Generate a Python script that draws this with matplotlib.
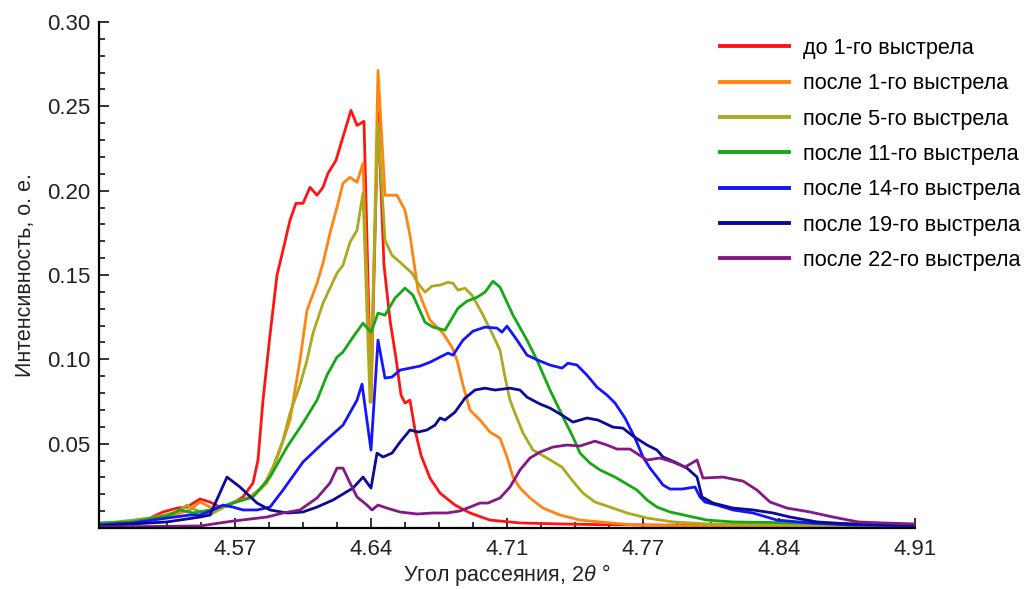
import numpy as np
import matplotlib
matplotlib.use('Agg')
import matplotlib.pyplot as plt
from matplotlib.ticker import FixedLocator, MultipleLocator

# --- data (2theta in degrees, intensity in a.u.) ---
x_before = [4.502, 4.519, 4.5275, 4.534, 4.541, 4.546, 4.5525, 4.5575, 4.5625, 4.566, 4.569, 4.574,
            4.579, 4.5815, 4.584, 4.5875, 4.591, 4.594, 4.5975, 4.6005, 4.604, 4.6075, 4.611, 4.614,
            4.6165, 4.6205, 4.6235, 4.628, 4.631, 4.6345, 4.638, 4.6415, 4.6445, 4.6475, 4.6505,
            4.653, 4.655, 4.6575, 4.66, 4.663, 4.6675, 4.6725, 4.68, 4.6875, 4.6975, 4.7125,
            4.7325, 4.7525, 4.8025, 4.8525, 4.91]
y_before = [0.0024, 0.0030, 0.0059, 0.0095, 0.0118, 0.0124, 0.0172, 0.0154, 0.0124, 0.0130, 0.0148, 0.0184,
            0.0267, 0.0403, 0.0758, 0.1143, 0.1499, 0.1647, 0.1825, 0.1925, 0.1925, 0.2020, 0.1973, 0.2020,
            0.2103, 0.2180, 0.2299, 0.2476, 0.2387, 0.2411, 0.0758, 0.2463, 0.1558, 0.1232, 0.1007,
            0.0788, 0.0741, 0.0758, 0.0581, 0.0432, 0.0296, 0.0207, 0.0136, 0.0089, 0.0047, 0.0030,
            0.0024, 0.0020, 0.0016, 0.0012, 0.0006]

x_after1 = [4.502, 4.5275, 4.541, 4.5475, 4.5525, 4.5575, 4.561, 4.569, 4.5775, 4.586, 4.5925, 4.5975,
            4.6025, 4.606, 4.611, 4.614, 4.6175, 4.621, 4.624, 4.6275, 4.631, 4.634, 4.638, 4.6415,
            4.645, 4.651, 4.655, 4.6575, 4.6615, 4.6675, 4.674, 4.6785, 4.681, 4.684, 4.6875, 4.6925,
            4.6975, 4.7025, 4.706, 4.709, 4.7125, 4.7175, 4.724, 4.7325, 4.7425, 4.7525, 4.769,
            4.8025, 4.91]
y_after1 = [0.0024, 0.0047, 0.0083, 0.0107, 0.0154, 0.0124, 0.0107, 0.0148, 0.0184, 0.0267, 0.0462, 0.0640,
            0.0995, 0.1291, 0.1451, 0.1570, 0.1748, 0.1902, 0.2044, 0.2079, 0.2050, 0.2162, 0.0746, 0.2713,
            0.1973, 0.1973, 0.1884, 0.1735, 0.1410, 0.1232, 0.1155, 0.1072, 0.0995, 0.0847, 0.0699, 0.0640,
            0.0569, 0.0533, 0.0421, 0.0302, 0.0237, 0.0178, 0.0118, 0.0077, 0.0047, 0.0036, 0.0018,
            0.0012, 0.0006]

x_after5 = [4.502, 4.5275, 4.541, 4.546, 4.549, 4.5575, 4.569, 4.5775, 4.584, 4.589, 4.594, 4.5975,
            4.6025, 4.606, 4.609, 4.614, 4.621, 4.624, 4.6275, 4.631, 4.634, 4.6375, 4.6415, 4.645,
            4.6485, 4.6525, 4.6585, 4.6615, 4.665, 4.6685, 4.6725, 4.6765, 4.679, 4.6815, 4.685,
            4.6885, 4.6935, 4.6985, 4.7025, 4.705, 4.7075, 4.71, 4.714, 4.719, 4.726, 4.7335, 4.7385,
            4.744, 4.75, 4.7575, 4.766, 4.776, 4.789, 4.806, 4.8525, 4.91]
y_after5 = [0.0024, 0.0059, 0.0095, 0.0136, 0.0113, 0.0077, 0.0154, 0.0178, 0.0243, 0.0361, 0.0521, 0.0681,
            0.0847, 0.0995, 0.1155, 0.1333, 0.1511, 0.1558, 0.1694, 0.1765, 0.1985, 0.0746, 0.2399, 0.1706,
            0.1617, 0.1576, 0.1511, 0.1451, 0.1398, 0.1434, 0.1440, 0.1457, 0.1451, 0.1410, 0.1422,
            0.1380, 0.1274, 0.1155, 0.1054, 0.0895, 0.0758, 0.0681, 0.0563, 0.0462, 0.0415, 0.0361, 0.0284,
            0.0207, 0.0154, 0.0124, 0.0089, 0.0059, 0.0036, 0.0024, 0.0018, 0.0012]

x_after11 = [4.502, 4.519, 4.529, 4.536, 4.5425, 4.549, 4.5575, 4.569, 4.579, 4.5875, 4.596, 4.604,
             4.611, 4.616, 4.621, 4.624, 4.629, 4.634, 4.638, 4.6415, 4.645, 4.65, 4.655, 4.659,
             4.665, 4.669, 4.675, 4.6815, 4.686, 4.691, 4.695, 4.699, 4.7025, 4.709, 4.716, 4.721,
             4.7275, 4.734, 4.739, 4.7425, 4.7475, 4.7525, 4.76, 4.765, 4.771, 4.776, 4.781, 4.7875,
             4.799, 4.806, 4.819, 4.8525, 4.91]
y_after11 = [0.0030, 0.0036, 0.0059, 0.0071, 0.0107, 0.0089, 0.0107, 0.0148, 0.0184, 0.0302, 0.0480, 0.0622,
             0.0758, 0.0906, 0.1013, 0.1043, 0.1132, 0.1214, 0.1161, 0.1274, 0.1262, 0.1363, 0.1422, 0.1380,
             0.1220, 0.1191, 0.1173, 0.1303, 0.1345, 0.1368, 0.1398, 0.1463, 0.1428, 0.1262, 0.1114, 0.0995,
             0.0818, 0.0658, 0.0539, 0.0444, 0.0385, 0.0344, 0.0302, 0.0267, 0.0225, 0.0166, 0.0124, 0.0095,
             0.0065, 0.0047, 0.0036, 0.0030, 0.0018]

x_after14 = [4.502, 4.519, 4.536, 4.5475, 4.5525, 4.559, 4.564, 4.569, 4.574, 4.581, 4.5875, 4.594,
             4.604, 4.614, 4.624, 4.631, 4.6335, 4.638, 4.6415, 4.645, 4.6485, 4.6525, 4.6575, 4.6625,
             4.6675, 4.6725, 4.6765, 4.679, 4.684, 4.689, 4.695, 4.701, 4.7035, 4.706, 4.711, 4.716,
             4.7215, 4.7275, 4.7335, 4.7365, 4.741, 4.746, 4.751, 4.756, 4.76, 4.765, 4.77, 4.774,
             4.7775, 4.781, 4.784, 4.7875, 4.7935, 4.8, 4.8025, 4.805, 4.811, 4.819, 4.829, 4.841,
             4.8575, 4.8775, 4.91]
y_after14 = [0.0018, 0.0030, 0.0059, 0.0077, 0.0077, 0.0107, 0.0136, 0.0124, 0.0107, 0.0107, 0.0124, 0.0225,
             0.0391, 0.0504, 0.0610, 0.0758, 0.0853, 0.0462, 0.1114, 0.0889, 0.0895, 0.0936, 0.0948, 0.0960,
             0.0983, 0.1013, 0.1037, 0.1025, 0.1114, 0.1167, 0.1191, 0.1185, 0.1161, 0.1197, 0.1114, 0.1025,
             0.0995, 0.0966, 0.0948, 0.0977, 0.0966, 0.0906, 0.0835, 0.0788, 0.0741, 0.0652, 0.0533, 0.0421,
             0.0355, 0.0302, 0.0255, 0.0231, 0.0231, 0.0243, 0.0184, 0.0154, 0.0136, 0.0107, 0.0089, 0.0047,
             0.0030, 0.0018, 0.0012]

x_after19 = [4.502, 4.536, 4.5525, 4.5575, 4.566, 4.5725, 4.581, 4.5875, 4.596, 4.604, 4.611, 4.619,
             4.629, 4.634, 4.638, 4.641, 4.644, 4.6485, 4.6525, 4.6575, 4.6615, 4.666, 4.67, 4.6725,
             4.675, 4.68, 4.685, 4.69, 4.695, 4.7, 4.7075, 4.7125, 4.716, 4.7225, 4.7275, 4.7335,
             4.739, 4.746, 4.7515, 4.759, 4.764, 4.769, 4.776, 4.781, 4.784, 4.791, 4.796, 4.801,
             4.8035, 4.809, 4.819, 4.829, 4.839, 4.8475, 4.861, 4.8775, 4.91]
y_after19 = [0.0012, 0.0036, 0.0065, 0.0077, 0.0302, 0.0243, 0.0148, 0.0107, 0.0089, 0.0095, 0.0124, 0.0166,
             0.0237, 0.0302, 0.0237, 0.0444, 0.0421, 0.0444, 0.0509, 0.0581, 0.0569, 0.0581, 0.0610, 0.0652,
             0.0640, 0.0687, 0.0770, 0.0818, 0.0829, 0.0818, 0.0829, 0.0818, 0.0776, 0.0735, 0.0711, 0.0669,
             0.0628, 0.0652, 0.0640, 0.0598, 0.0592, 0.0545, 0.0492, 0.0462, 0.0421, 0.0385, 0.0355, 0.0302,
             0.0184, 0.0148, 0.0118, 0.0107, 0.0089, 0.0065, 0.0036, 0.0024, 0.0018]

x_after22 = [4.502, 4.5525, 4.5625, 4.569, 4.5775, 4.586, 4.594, 4.6025, 4.611, 4.6175, 4.621, 4.624,
             4.6275, 4.631, 4.636, 4.6385, 4.6415, 4.646, 4.6525, 4.661, 4.669, 4.676, 4.6825, 4.6875,
             4.6925, 4.6965, 4.7025, 4.7075, 4.7125, 4.7175, 4.7225, 4.729, 4.736, 4.7425, 4.75,
             4.756, 4.761, 4.7675, 4.776, 4.7825, 4.789, 4.795, 4.801, 4.804, 4.814, 4.824, 4.831,
             4.8375, 4.846, 4.8575, 4.869, 4.8815, 4.894, 4.91]
y_after22 = [0.0006, 0.0012, 0.0030, 0.0041, 0.0053, 0.0065, 0.0089, 0.0107, 0.0178, 0.0267, 0.0355, 0.0355,
             0.0267, 0.0184, 0.0136, 0.0107, 0.0136, 0.0118, 0.0095, 0.0083, 0.0089, 0.0089, 0.0101, 0.0124,
             0.0148, 0.0148, 0.0178, 0.0243, 0.0344, 0.0415, 0.0450, 0.0480, 0.0492, 0.0486, 0.0515,
             0.0492, 0.0468, 0.0468, 0.0403, 0.0415, 0.0391, 0.0361, 0.0403, 0.0296, 0.0302, 0.0278, 0.0225,
             0.0154, 0.0118, 0.0095, 0.0065, 0.0036, 0.0030, 0.0024]

labels = ['до 1-го выстрела', 'после 1-го выстрела', 'после 5-го выстрела', 'после 11-го выстрела',
          'после 14-го выстрела', 'после 19-го выстрела', 'после 22-го выстрела']
colors = ['#ff1414', '#ff8410', '#aaaa1c', '#14a814', '#1414ff', '#0a0a96', '#841884']

xtick_pos = [4.57, 4.638, 4.706, 4.774, 4.842, 4.91]
xtick_lab = ['4.57', '4.64', '4.71', '4.77', '4.84', '4.91']
ytick_pos = [0.05, 0.10, 0.15, 0.20, 0.25, 0.30]

plt.rcParams['font.family'] = ['Liberation Sans', 'DejaVu Sans']
plt.rcParams['mathtext.fontset'] = 'custom'
plt.rcParams['mathtext.it'] = 'Liberation Sans:italic'
plt.rcParams['mathtext.rm'] = 'Liberation Sans'

fig = plt.figure(figsize=(10.27, 5.89), dpi=100)
ax = fig.add_axes([99 / 1027, 1 - 528 / 589, 816 / 1027, 506 / 589])

series = [(x_before, y_before), (x_after1, y_after1), (x_after5, y_after5), (x_after11, y_after11),
          (x_after14, y_after14), (x_after19, y_after19), (x_after22, y_after22)]
for (xs, ys), c, lab in zip(series, colors, labels):
    ax.plot(xs, ys, color=c, lw=2.0, label=lab, solid_joinstyle='round')

ax.set_xlim(4.502, 4.91)
ax.set_ylim(0, 0.30)
for s in ['top', 'right']:
    ax.spines[s].set_visible(False)
for s in ['left', 'bottom']:
    ax.spines[s].set_linewidth(1.6)

ax.xaxis.set_major_locator(FixedLocator(xtick_pos))
ax.set_xticklabels(xtick_lab)
ax.xaxis.set_minor_locator(FixedLocator(np.arange(4.502, 4.911, 0.017)))
ax.set_yticks(ytick_pos)
ax.set_yticklabels(['%.2f' % v for v in ytick_pos])
ax.yaxis.set_minor_locator(MultipleLocator(0.01))
ax.tick_params(which='major', direction='in', length=7, width=1.3, labelsize=16, colors='#222222')
ax.tick_params(which='minor', direction='in', length=4, width=1.1)
ax.tick_params(axis='x', pad=8)
ax.tick_params(axis='y', pad=6)

ax.set_xlabel('Угол рассеяния, $\\mathit{2\\theta}$ °', fontsize=15.5, color='#222222', labelpad=1)
ax.set_ylabel('Интенсивность, о. е.', fontsize=15.5, color='#222222', labelpad=8)

leg = ax.legend(loc='upper left', bbox_to_anchor=(720 / 1027, 1 - 38 / 589), bbox_transform=fig.transFigure,
                frameon=False, fontsize=15.6, handlelength=3.2, handletextpad=0.65, labelspacing=0.66,
                borderpad=0, borderaxespad=0)
for h in leg.get_lines():
    h.set_linewidth(2.8)

fig.savefig('out.png', dpi=100)
